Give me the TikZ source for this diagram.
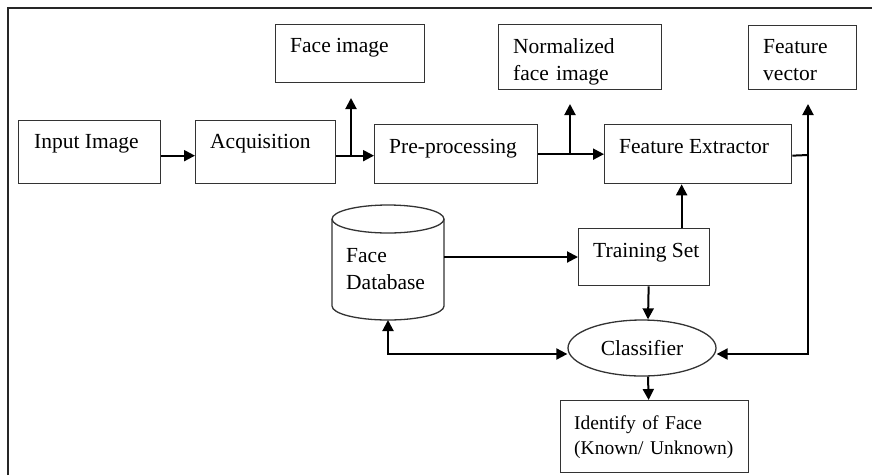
\documentclass[tikz,border=0pt]{standalone}
\usepackage{fontspec}
\setmainfont{Liberation Serif}
\usetikzlibrary{arrows.meta,shapes.geometric,calc}
\begin{document}
\begin{tikzpicture}[x=1pt,y=-1pt,
  box/.style={draw=black!80,line width=1.3pt,inner sep=0pt,anchor=north west},
  txt/.style={inner sep=0pt,anchor=base west,font=\fontsize{21.5}{27}\selectfont,align=left},
  arr/.style={line width=2pt,-{Triangle[length=11pt,width=11pt]}},
  arrtwo/.style={line width=2pt,{Triangle[length=11pt,width=11pt]}-{Triangle[length=11pt,width=11pt]}},
  plain/.style={line width=2pt}]
\useasboundingbox (0,0) rectangle (872,475);
\draw[line width=1.5pt,black!85] (8,475) -- (8,8) -- (872,8);
% boxes
\node[box,minimum width=142pt,minimum height=63pt] (inp) at (18,120) {};
\node[box,minimum width=140pt,minimum height=63pt] (acq) at (195,120) {};
\node[box,minimum width=163pt,minimum height=59pt] (pre) at (374,124) {};
\node[box,minimum width=187pt,minimum height=59pt] (fe) at (604,124) {};
\node[box,minimum width=149pt,minimum height=58pt] (face) at (275,24) {};
\node[box,minimum width=163pt,minimum height=65pt] (norm) at (498,24) {};
\node[box,minimum width=108pt,minimum height=64pt] (fvec) at (748,25) {};
\node[box,minimum width=131pt,minimum height=57pt] (ts) at (578,228) {};
\node[box,minimum width=188pt,minimum height=72pt] (idf) at (560,400) {};
\node[ellipse,draw=black!80,line width=1.3pt,inner sep=0pt,minimum width=148pt,minimum height=56pt,
  font=\fontsize{21.5}{27}\selectfont] (cls) at (642,348) {Classifier};
% database cylinder
\draw[draw=black!80,line width=1.3pt] (332,219) -- (332,306)
  arc[start angle=180,end angle=360,x radius=56pt,y radius=14pt] -- (444,219);
\draw[draw=black!80,line width=1.3pt] (388,219) ellipse [x radius=56pt,y radius=14pt];
\coordinate (dbS) at (388,320);
\coordinate (dbE) at (444,257);
% texts
\node[txt] (tinp) at (34,148) {Input Image};
\node[txt] (tacq) at (210,148) {Acquisition};
\node[txt] (tpre) at (389,153) {Pre-processing};
\node[txt] (tfe) at (619,153) {Feature Extractor};
\node[txt] (tface) at (290,52) {Face image};
\node[txt,text width=140pt] (tnorm) at (513,53) {Normalized\\face image};
\node[txt,text width=90pt] (tfvec) at (763,53) {Feature\\vector};
\node[txt,text width=95pt] (tdb) at (346,262) {Face\\Database};
\node[txt] (tts) at (593,257) {Training Set};
\node[txt,text width=170pt,font=\fontsize{19.5}{25.5}\selectfont] (tidf) at (574,429) {Identify of Face\\(Known/ Unknown)};
% connector points
\coordinate (b1) at (351,155);
\coordinate (b1t) at (351,98);
\coordinate (b2) at (570,153.5);
\coordinate (b2t) at (570,104);
\coordinate (fv) at (808,155);
\coordinate (fvt) at (808,104);
% connectors
\draw[arr] ([yshift=-3.5pt]inp.east) -- ([yshift=-3.5pt]acq.west);
\draw[arr] ([yshift=-3.5pt]acq.east) -- ([yshift=-1.5pt]pre.west);
\draw[arr] (b1) -- (b1t);
\draw[arr] (pre) -- (fe);
\draw[arr] (b2) -- (b2t);
\draw[plain] ([yshift=-1.5pt]fe.east) -- (fv);
\draw[arr] (fv) -- (fvt);
\draw[arr] (fv) |- ([yshift=-6pt]cls.east);
\draw[arr] ($(ts.north)+(37.5,0)$) -- ($(fe.south)+(-16.5,0)$);
\draw[arr] (dbE) -- (dbE -| ts.west);
\draw[arr] ($(ts.south)+(4.5,0)$) -- ($(cls.north)+(6,0)$);
\draw[arrtwo] ([yshift=-6pt]cls.west) -| (dbS);
\draw[arr] ($(cls.south)+(6,0)$) -- ($(idf.north)+(-6,0)$);
\end{tikzpicture}
\end{document}
